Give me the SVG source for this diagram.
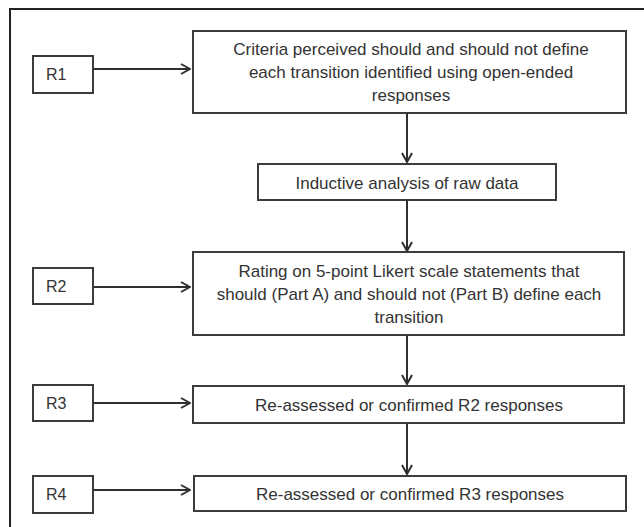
<svg xmlns="http://www.w3.org/2000/svg" width="644" height="527" viewBox="0 0 644 527">
<style>
.box{fill:#fff;stroke:#3c3c3c;stroke-width:2}
.t{font-family:"Liberation Sans",Arial,sans-serif;font-size:17px;fill:#333;text-anchor:middle}
.r{font-family:"Liberation Sans",Arial,sans-serif;font-size:16px;fill:#333}
.c{fill:none;stroke:#2f2f2f;stroke-width:2}
</style>
<defs>
<marker id="ah" viewBox="0 0 12 12" refX="11" refY="6" markerWidth="12" markerHeight="12" markerUnits="userSpaceOnUse" orient="auto">
<path d="M2,1 L11,6 L2,11" fill="none" stroke="#2f2f2f" stroke-width="2"/>
</marker>
</defs>
<rect width="644" height="527" fill="#fff"/>
<path d="M10,527 V9 H644" fill="none" stroke="#222" stroke-width="2"/>
<g id="r1"><rect class="box" x="33" y="56" width="60" height="37"/><text class="r" x="46" y="80">R1</text></g>
<g id="r2"><rect class="box" x="33" y="268" width="60" height="36"/><text class="r" x="46" y="292">R2</text></g>
<g id="r3"><rect class="box" x="33" y="385" width="60" height="36"/><text class="r" x="46" y="409">R3</text></g>
<g id="r4"><rect class="box" x="33" y="476" width="60" height="37"/><text class="r" x="46" y="500">R4</text></g>
<g id="n1"><rect class="box" x="193" y="31" width="433" height="82"/>
<text class="t" x="411" y="55">Criteria perceived should and should not define</text>
<text class="t" x="411" y="78">each transition identified using open-ended</text>
<text class="t" x="411" y="101">responses</text></g>
<g id="n2"><rect class="box" x="258" y="164" width="298" height="36"/>
<text class="t" x="407" y="189">Inductive analysis of raw data</text></g>
<g id="n3"><rect class="box" x="193" y="252" width="431" height="83"/>
<text class="t" x="409" y="277">Rating on 5-point Likert scale statements that</text>
<text class="t" x="409" y="300">should (Part A) and should not (Part B) define each</text>
<text class="t" x="409" y="323">transition</text></g>
<g id="n4"><rect class="box" x="193" y="386" width="431" height="37"/>
<text class="t" x="409" y="411">Re-assessed or confirmed R2 responses</text></g>
<g id="n5"><rect class="box" x="194" y="476" width="432" height="35"/>
<text class="t" x="410" y="500">Re-assessed or confirmed R3 responses</text></g>
<g id="connectors">
<line class="c" x1="93" y1="69" x2="190" y2="69" marker-end="url(#ah)"/>
<line class="c" x1="93" y1="287" x2="190" y2="287" marker-end="url(#ah)"/>
<line class="c" x1="93" y1="403" x2="190" y2="403" marker-end="url(#ah)"/>
<line class="c" x1="93" y1="490" x2="190" y2="490" marker-end="url(#ah)"/>
<line class="c" x1="407" y1="113" x2="407" y2="162" marker-end="url(#ah)"/>
<line class="c" x1="407" y1="200" x2="407" y2="251" marker-end="url(#ah)"/>
<line class="c" x1="407" y1="335" x2="407" y2="384" marker-end="url(#ah)"/>
<line class="c" x1="407" y1="423" x2="407" y2="474" marker-end="url(#ah)"/>
</g>
</svg>
